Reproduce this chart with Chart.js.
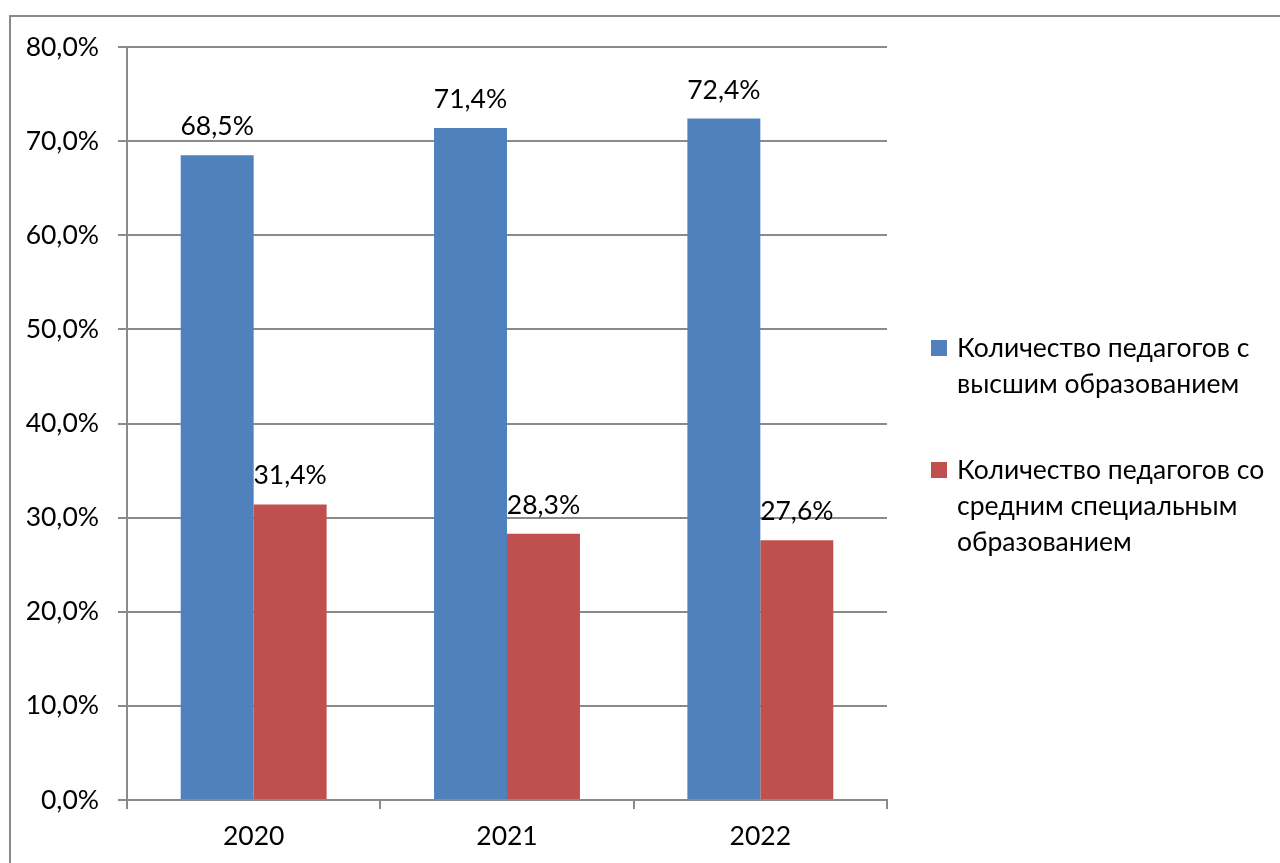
<!DOCTYPE html>
<html lang="ru">
<head>
    <meta charset="UTF-8">
    <title>Образование педагогов</title>
    <style>
        html, body { margin: 0; padding: 0; background: #fff; overflow: hidden; }
        #wrap { width: 1280px; height: 863px; }
    </style>
</head>
<body>
    <div id="wrap"><canvas id="eduChart" width="1280" height="863"></canvas></div>

    <script src="https://cdn.jsdelivr.net/npm/chart.js"></script>
    <script>
        // данные с диаграммы
        const years = ['2020', '2021', '2022'];
        const higherEdu = [68.5, 71.4, 72.4];
        const secondaryEdu = [31.4, 28.3, 27.6];
        const seriesNames = [
            ['Количество педагогов с', 'высшим образованием'],
            ['Количество педагогов со', 'средним специальным', 'образованием']
        ];
        const seriesColors = ['#4f81bd', '#c0504d'];

        const FONT = 'Lato, "Open Sans", sans-serif';
        const SIZE = 26.5;
        const fmt = v => v.toFixed(1).replace('.', ',') + '%';

        // рамка, подписи значений и легенда справа
        const extras = {
            id: 'extras',
            beforeDraw(chart) {
                const ctx = chart.ctx;
                ctx.save();
                ctx.strokeStyle = '#8a8a8a';
                ctx.lineWidth = 2;
                ctx.strokeRect(10, 16, 1320, 900);
                ctx.restore();
            },
            afterDatasetsDraw(chart) {
                const ctx = chart.ctx;
                ctx.save();
                ctx.font = SIZE + 'px ' + FONT;
                ctx.fillStyle = '#000';
                ctx.textAlign = 'center';
                ctx.textBaseline = 'alphabetic';
                chart.data.datasets.forEach((ds, i) => {
                    chart.getDatasetMeta(i).data.forEach((bar, j) => {
                        ctx.fillText(fmt(ds.data[j]), bar.x, bar.y - 20);
                    });
                });

                // легенда
                const lx = 931, tx = 957, lineH = 36;
                let y = 357;
                seriesNames.forEach((lines, i) => {
                    ctx.fillStyle = seriesColors[i];
                    ctx.fillRect(lx, y - 17, 16, 16);
                    ctx.fillStyle = '#000';
                    ctx.textAlign = 'left';
                    lines.forEach((t, k) => ctx.fillText(t, tx, y + k * lineH));
                    y += lines.length * lineH + 50;
                });
                ctx.restore();
            }
        };

        new Chart(document.getElementById('eduChart'), {
            type: 'bar',
            data: {
                labels: years,
                datasets: [
                    { label: seriesNames[0].join(' '), data: higherEdu, backgroundColor: seriesColors[0] },
                    { label: seriesNames[1].join(' '), data: secondaryEdu, backgroundColor: seriesColors[1] }
                ]
            },
            options: {
                responsive: false,
                animation: false,
                layout: { padding: { left: 0, top: 47, right: 393, bottom: 0 } },
                datasets: { bar: { categoryPercentage: 0.576, barPercentage: 1 } },
                plugins: { legend: { display: false }, tooltip: { enabled: false } },
                scales: {
                    x: {
                        afterFit: s => { s.height = 63; },
                        grid: { drawOnChartArea: false, drawTicks: true, tickLength: 9, color: '#8a8a8a', lineWidth: 2 },
                        border: { color: '#8a8a8a', width: 2 },
                        ticks: { color: '#000', font: { family: FONT, size: SIZE }, padding: 12 }
                    },
                    y: {
                        min: 0,
                        max: 80,
                        afterFit: s => { s.width = 127; },
                        grid: { color: '#8a8a8a', lineWidth: 2, tickLength: 9 },
                        border: { color: '#8a8a8a', width: 2 },
                        ticks: { stepSize: 10, color: '#000', font: { family: FONT, size: SIZE }, padding: 19, callback: v => fmt(v) }
                    }
                }
            },
            plugins: [extras]
        });
    </script>
</body>
</html>
